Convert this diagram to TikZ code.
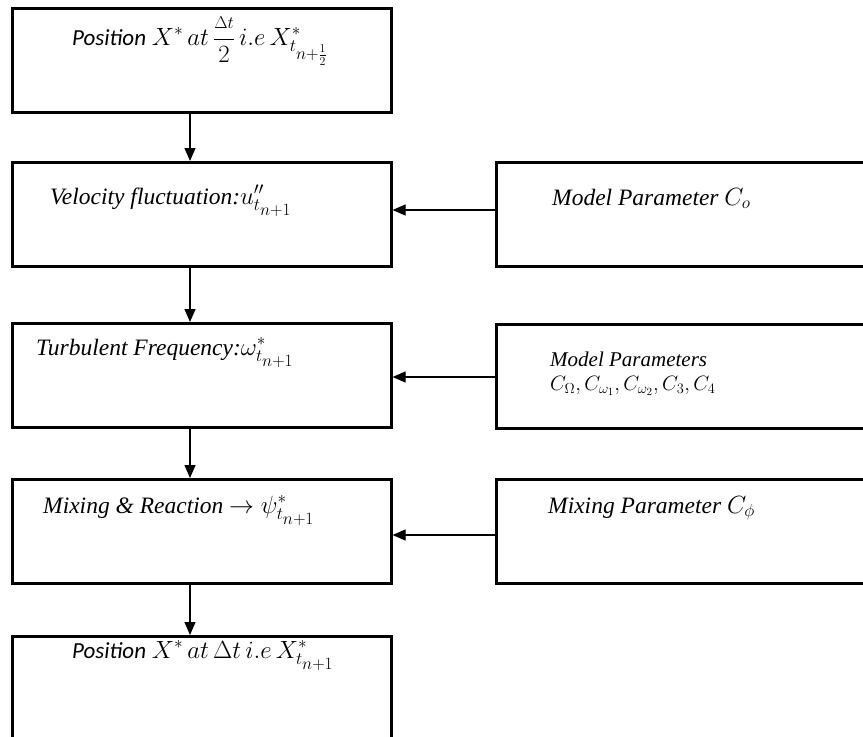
\documentclass[tikz,border=0pt]{standalone}
\usepackage{fontspec}
\setmainfont{Liberation Serif}
\newfontfamily\calib{Carlito}
\usetikzlibrary{arrows.meta}
% math set a little larger than the running text
\newcommand\bigmath[1]{{\fontsize{25}{30}\selectfont$#1$}}
\newcommand\midmath[1]{{\fontsize{21}{25}\selectfont$#1$}}

\begin{document}
\begin{tikzpicture}[x=1pt,y=-1pt,
  box/.style={draw, line width=2.6pt, minimum width=379pt, minimum height=104pt,
              inner sep=0pt, anchor=north west},
  pbox/.style={box, minimum width=385pt},
  lbl/.style={anchor=base west, inner sep=0pt, font=\fontsize{23.5}{28}\selectfont\itshape},
  slbl/.style={lbl, font=\fontsize{21}{25}\selectfont\itshape},
  arr/.style={line width=1.2pt, -{Triangle[length=13pt,width=11pt]}}
]
\clip (0,0) rectangle (863,737);

% process chain on the left
\node[box] (b1) at (11,7)   {};
\node[box] (b2) at (11,161) {};
\node[box] (b3) at (11,322) {};
\node[box] (b4) at (11,478) {};
\node[box] (b5) at (11,635) {};

% model parameter boxes on the right
\node[pbox] (r1) at (495,161) {};
\node[pbox] (r2) at (495,323) {};
\node[pbox] (r3) at (495,478) {};

% texts
\node[lbl] (t1) at (72,45) {{\calib\fontsize{23}{28}\selectfont Position} \bigmath{X^{*}\,at\,{\displaystyle\frac{\scriptstyle\Delta t}{2}}\,i.e\,X^{*}_{t_{\scriptstyle n+\frac{1}{2}}}}};
\node[lbl] (t2) at (50,204) {Velocity fluctuation:\bigmath{u''_{t_{\scriptstyle n+1}}}};
\node[lbl] (t3) at (36,355) {Turbulent Frequency:\bigmath{\omega^{*}_{t_{\scriptstyle n+1}}}};
\node[lbl] (t4) at (43,513) {Mixing \& Reaction \bigmath{\rightarrow \psi^{*}_{t_{\scriptstyle n+1}}}};
\node[lbl] (t5) at (72,658) {{\calib\fontsize{23}{28}\selectfont Position} \bigmath{X^{*}\,at\,\Delta t\,i.e\,X^{*}_{t_{\scriptstyle n+1}}}};

\node[lbl] (p1) at (552,205) {Model Parameter \bigmath{C_{o}}};
\node[slbl] (p2a) at (550,366) {Model Parameters};
\node[slbl] (p2b) at (550,390) {\midmath{C_{\Omega}, C_{\omega_1}, C_{\omega_2}, C_{3}, C_{4}}};
\node[lbl] (p3) at (548,513) {Mixing Parameter \bigmath{C_{\phi}}};

% connector guides
\coordinate (ax) at (190,0);
\coordinate (h1) at (0,210);
\coordinate (h2) at (0,377);
\coordinate (h3) at (0,535);

% vertical flow
\draw[arr] (b1.south -| ax) -- (b2.north -| ax);
\draw[arr] (b2.south -| ax) -- (b3.north -| ax);
\draw[arr] (b3.south -| ax) -- (b4.north -| ax);
\draw[arr] (b4.south -| ax) -- (b5.north -| ax);

% parameter inputs
\draw[arr] (r1.west |- h1) -- (b2.east |- h1);
\draw[arr] (r2.west |- h2) -- (b3.east |- h2);
\draw[arr] (r3.west |- h3) -- (b4.east |- h3);
\end{tikzpicture}
\end{document}
